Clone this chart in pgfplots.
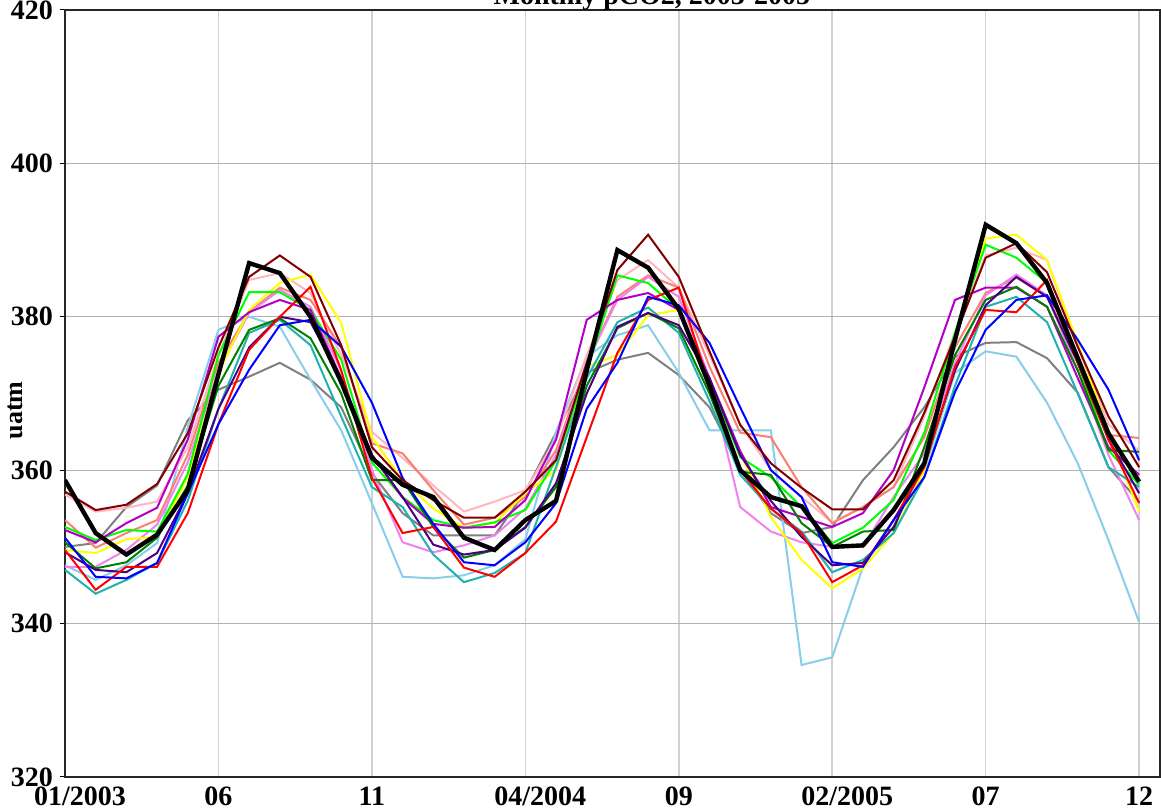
\documentclass[border=0pt]{standalone}
\usepackage{fontspec}
\setmainfont{Liberation Serif}
\usepackage{pgfplots}
\usepackage{pgfplotstable}
\pgfplotsset{compat=1.18}
\usetikzlibrary{calc}

\definecolor{cmar}{RGB}{128,0,0}
\definecolor{cpnk}{RGB}{255,182,193}
\definecolor{cyel}{RGB}{255,255,0}
\definecolor{clim}{RGB}{0,255,0}
\definecolor{csal}{RGB}{250,128,114}
\definecolor{cpur}{RGB}{176,0,200}
\definecolor{cred}{RGB}{255,0,0}
\definecolor{cblu}{RGB}{0,0,255}
\definecolor{cgrn}{RGB}{0,128,0}
\definecolor{ctea}{RGB}{32,178,176}
\definecolor{cind}{RGB}{75,0,130}
\definecolor{cgry}{RGB}{128,128,128}
\definecolor{csky}{RGB}{135,206,235}
\definecolor{cvio}{RGB}{238,130,238}

% monthly pCO2 (uatm), month index 0 = 01/2003
\pgfplotstableread{
m  blk   mar   pnk   yel   lim   sal   pur   red   blu   grn   tea   ind   gry   sky   vio
0  358.7 357.2 356.8 349.6 352.6 353.5 352.2 349.6 351.2 350.6 347.0 349.3 350.0 347.6 347.4
1  351.8 354.8 354.6 349.2 350.9 349.9 350.6 344.4 346.1 347.2 343.9 347.0 350.5 345.7 347.4
2  349.0 355.5 355.1 351.0 352.2 351.8 353.1 347.4 345.9 348.0 345.7 346.7 355.2 347.6 349.6
3  351.6 358.2 355.9 351.3 352.0 353.5 355.1 347.4 347.9 351.2 347.9 349.2 358.0 350.5 352.9
4  357.4 364.8 363.0 359.1 359.5 362.0 364.0 354.4 357.0 358.0 356.0 357.0 366.5 365.6 361.0
5  372.5 376.0 375.0 372.7 375.0 374.0 377.4 366.0 366.0 371.0 368.0 368.0 370.5 378.3 373.0
6  387.0 385.2 384.8 380.9 383.2 380.6 380.6 375.7 373.1 378.3 377.9 376.0 372.2 380.0 380.5
7  385.7 388.0 385.7 384.4 383.2 383.8 382.2 380.0 378.9 379.8 379.6 380.0 374.0 378.7 383.5
8  380.0 385.2 383.1 385.5 380.9 382.2 380.9 383.9 379.6 377.2 376.3 379.3 371.8 371.8 381.3
9  371.5 376.3 375.0 379.2 374.4 376.0 372.0 373.0 376.1 370.0 367.0 372.0 368.2 365.2 373.0
10 361.6 363.0 365.0 364.3 361.0 363.5 362.0 359.0 368.8 358.7 357.8 362.0 359.6 355.7 360.0
11 358.1 358.7 361.6 358.7 356.5 362.2 356.4 351.8 359.0 358.7 355.2 356.5 354.4 346.1 350.6
12 356.5 356.1 358.0 355.0 353.5 357.4 353.0 352.6 353.0 352.6 349.0 350.3 351.5 345.9 349.3
13 351.2 353.8 354.6 352.5 352.5 352.9 352.5 347.3 348.0 348.6 345.4 349.0 351.5 346.3 350.2
14 349.6 353.8 355.9 353.1 353.2 353.8 352.6 346.1 347.6 349.6 346.6 349.6 351.5 347.6 351.5
15 353.5 357.2 357.4 357.0 354.8 356.5 356.1 349.2 350.6 352.6 349.2 352.5 357.2 351.0 355.0
16 356.0 361.3 364.0 360.0 361.3 362.6 364.0 353.3 355.7 357.8 360.4 358.3 364.9 365.0 362.0
17 373.0 374.0 375.0 373.5 373.0 374.0 379.6 364.3 368.0 371.0 372.0 370.0 372.7 374.8 374.0
18 388.7 386.1 384.8 375.0 385.4 382.6 382.2 375.3 374.0 378.5 379.3 378.7 374.4 377.6 382.2
19 386.4 390.7 387.4 380.2 384.4 385.4 383.1 382.2 382.6 380.5 381.2 380.5 375.3 378.9 385.2
20 381.0 385.2 383.8 380.9 380.9 383.8 380.9 383.8 381.5 378.5 377.9 378.9 372.4 372.7 382.6
21 371.0 375.5 375.0 370.9 371.8 373.5 372.0 371.0 376.6 370.0 369.0 372.0 368.2 365.2 372.0
22 360.0 365.9 366.0 362.2 361.7 364.9 362.5 360.0 368.2 359.8 359.4 362.0 360.4 365.2 355.2
23 356.5 360.9 360.0 353.9 359.1 364.3 355.2 355.0 360.0 359.4 355.0 356.0 354.4 365.2 352.0
24 355.3 357.7 356.5 348.3 355.2 357.8 353.9 351.8 356.5 353.1 352.0 351.3 351.8 334.6 350.6
25 350.0 354.9 353.2 344.6 350.5 353.1 352.6 345.4 348.0 350.0 346.7 347.6 352.6 335.6 350.0
26 350.2 354.9 355.2 347.2 352.5 355.2 354.4 347.6 347.4 352.0 348.3 347.9 358.7 347.4 350.0
27 354.8 358.7 357.8 351.8 356.1 357.8 360.0 353.5 353.5 352.2 351.8 352.6 363.0 353.5 356.5
28 360.9 367.5 367.0 360.0 364.9 364.3 370.8 360.4 359.1 363.0 359.1 361.0 368.2 360.0 362.2
29 377.0 377.4 378.0 377.0 377.9 376.0 382.2 373.5 370.2 375.0 371.0 373.0 374.8 372.7 374.0
30 392.0 387.7 388.0 390.2 389.4 383.1 383.8 380.9 378.3 382.2 381.3 381.5 376.6 375.5 382.8
31 389.6 389.6 389.0 390.7 387.7 385.1 383.8 380.6 382.2 383.9 382.6 385.2 376.7 374.8 385.5
32 384.4 385.8 387.4 387.4 384.4 382.6 381.3 384.8 382.8 381.3 379.3 382.6 374.6 368.8 382.8
33 374.6 376.1 376.0 376.6 374.0 375.0 372.0 374.0 377.0 373.0 370.0 374.0 370.1 360.9 373.0
34 364.8 367.0 366.0 365.0 362.6 364.6 363.0 364.0 370.5 362.6 360.4 364.0 360.4 350.9 362.0
35 358.5 360.4 362.5 354.6 358.1 364.2 359.4 355.7 361.3 362.4 357.8 357.0 355.9 340.2 353.5
}\pco

\begin{document}
\begin{tikzpicture}
\begin{axis}[
  scale only axis,
  width=547.5pt, height=383.5pt,
  xmin=0, xmax=35.68, ymin=320, ymax=420,
  xtick={0,5,...,35},
  xticklabels={\hspace*{15pt}01/2003,06,11,\hspace*{15pt}04/2004,09,\hspace*{15pt}02/2005,07,12},
  ytick={320,340,...,420},
  yticklabels={320,340,360,380,400,420},
  x tick style={draw=none},
  y tick style={black, line width=0.5pt},
  tick align=outside, major tick length=2.5pt,
  grid=major,
  x grid style={black!18, line width=0.8pt},
  y grid style={black!30, line width=0.5pt},
  axis line style={black!85, line width=0.6pt},
  tick label style={font=\fontsize{14}{16}\selectfont\bfseries},
  xticklabel style={yshift=1pt},
  ylabel={\textbf{uatm}},
  every axis y label/.style={at={($(rel axis cs:0,0.478)+(-25pt,0)$)}, anchor=center,
    rotate=90, font=\fontsize{13}{15}\selectfont},
  every axis plot/.append style={line width=1pt, mark=none},
]
\addplot[cgry] table[x=m, y=gry] {\pco};
\addplot[csky] table[x=m, y=sky] {\pco};
\addplot[cpnk] table[x=m, y=pnk] {\pco};
\addplot[csal] table[x=m, y=sal] {\pco};
\addplot[cvio] table[x=m, y=vio] {\pco};
\addplot[cyel] table[x=m, y=yel] {\pco};
\addplot[clim] table[x=m, y=lim] {\pco};
\addplot[cpur] table[x=m, y=pur] {\pco};
\addplot[ctea] table[x=m, y=tea] {\pco};
\addplot[cgrn] table[x=m, y=grn] {\pco};
\addplot[cind] table[x=m, y=ind] {\pco};
\addplot[cred] table[x=m, y=red] {\pco};
\addplot[cblu] table[x=m, y=blu] {\pco};
\addplot[cmar] table[x=m, y=mar] {\pco};
\addplot[black, line width=2.2pt] table[x=m, y=blk] {\pco};
\coordinate (SW) at (rel axis cs:0,0);
\coordinate (NE) at (rel axis cs:1,1);
\coordinate (T) at (rel axis cs:0.536,1);
\end{axis}
\node[anchor=base, font=\fontsize{14}{16}\selectfont\bfseries, inner sep=0pt]
  at ($(T)+(0,2.5pt)$) {Monthly pCO2, 2003-2005};
\pgfresetboundingbox
\path[use as bounding box] ($(SW)+(-32.5pt,-17.5pt)$) rectangle ($(NE)+(0.5pt,5pt)$);
\end{tikzpicture}
\end{document}
